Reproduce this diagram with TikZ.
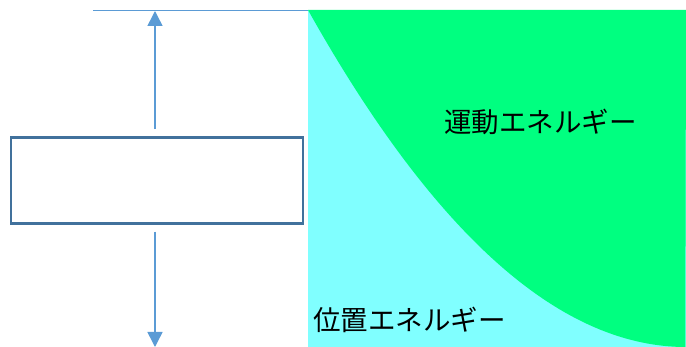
\documentclass[tikz,border=0pt]{standalone}
\usepackage{fontspec}
\newfontfamily\jpfont{Noto Sans CJK JP}
\usetikzlibrary{arrows.meta}
\definecolor{keGreen}{HTML}{00FF80}
\definecolor{peCyan}{HTML}{80FFFF}
\definecolor{lineBlue}{HTML}{5B9BD5}
\definecolor{boxBlue}{HTML}{41719C}
\tikzset{
  guideline/.style={draw=lineBlue, line width=1.5pt},
  guidearrow/.style={guideline, -{Triangle[width=15pt,length=15pt]}},
  bodybox/.style={draw=boxBlue, line width=2.5pt, fill=white, minimum width=292pt, minimum height=86pt, inner sep=0pt},
  energylabel/.style={anchor=west, inner sep=0pt, font=\jpfont\fontsize{27.5}{27.5}\selectfont, text=black}
}
\begin{document}
\begin{tikzpicture}[x=1pt,y=-1pt]
\useasboundingbox (0,0) rectangle (686,347);
% energy regions
\fill[peCyan] (308,10) rectangle (686,347);
\fill[keGreen] (308,10) -- plot[domain=0:1,samples=150] ({308+378*\x},{347-337*(1-\x)^2}) -- (686,10) -- cycle;
% guides
\coordinate (topL) at (93,10.5);
\coordinate (topR) at (308,10.5);
\draw[guideline] (topL) -- (topR);
\node[bodybox] (body) at (157,180.5) {};
\coordinate (upEnd) at (155,11);
\coordinate (downEnd) at (155,347);
\draw[guidearrow] ([yshift=7pt]body.north -| upEnd) -- (upEnd);
\draw[guidearrow] ([yshift=-7pt]body.south -| downEnd) -- (downEnd);
% labels
\node[energylabel] (ke) at (444,122) {運動エネルギー};
\node[energylabel] (pe) at (313,320) {位置エネルギー};
\end{tikzpicture}
\end{document}
